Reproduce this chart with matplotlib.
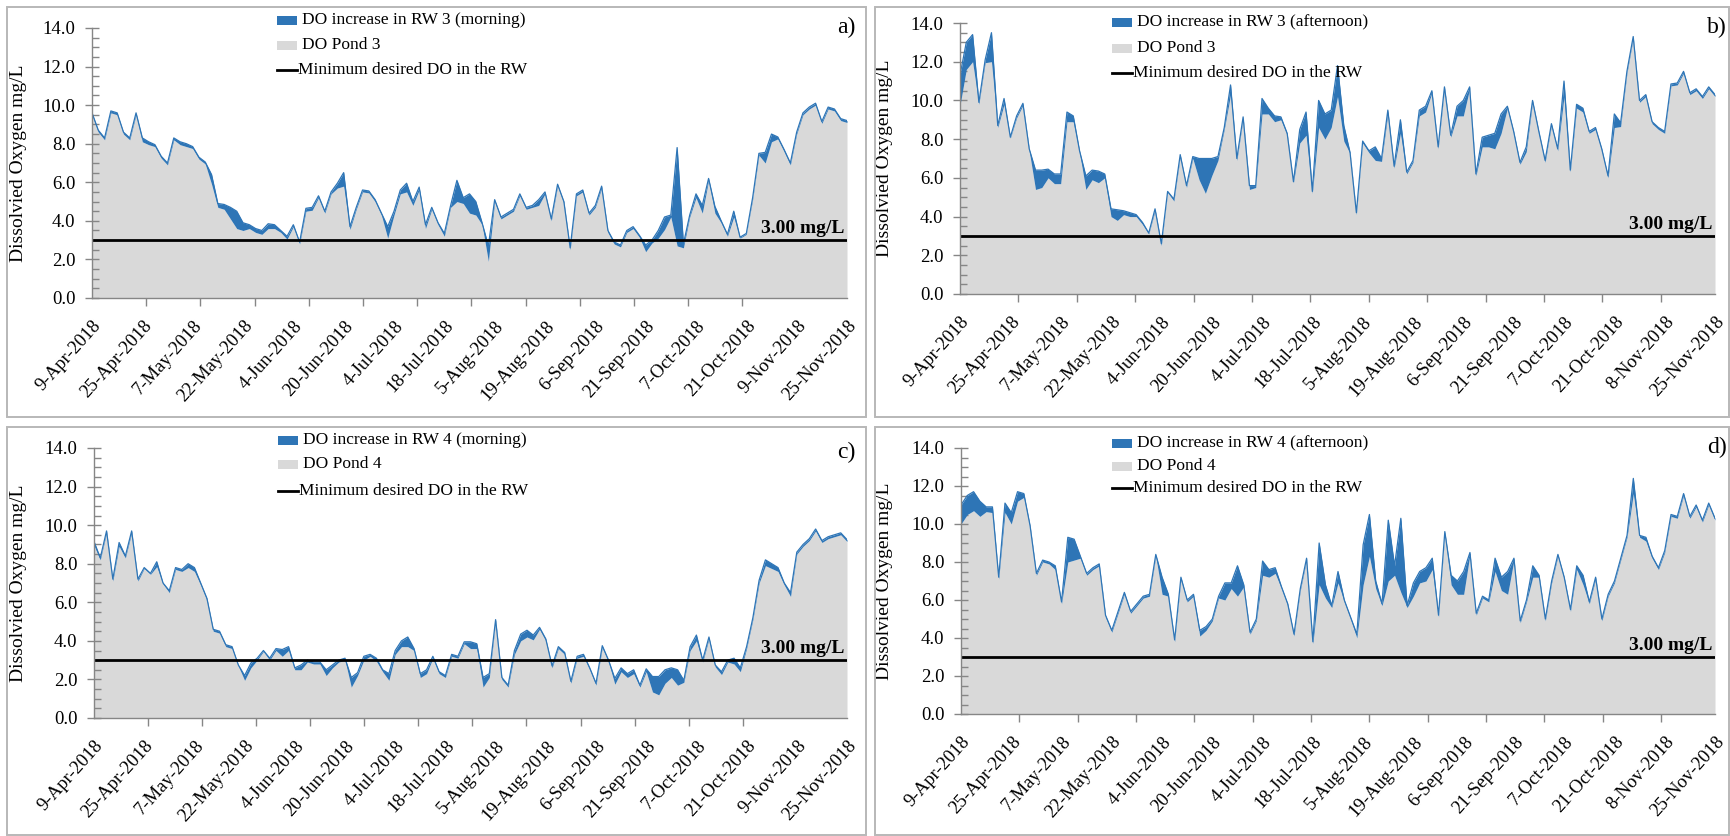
import numpy as np
import matplotlib
matplotlib.use("Agg")
import matplotlib.pyplot as plt
from matplotlib.patches import Rectangle
from matplotlib.lines import Line2D

plt.rcParams['font.family'] = ['Liberation Serif', 'DejaVu Serif']

# ---------------- data (mg/L) ----------------
labels_ac = ["9-Apr-2018", "25-Apr-2018", "7-May-2018", "22-May-2018", "4-Jun-2018",
             "20-Jun-2018", "4-Jul-2018", "18-Jul-2018", "5-Aug-2018", "19-Aug-2018",
             "6-Sep-2018", "21-Sep-2018", "7-Oct-2018", "21-Oct-2018", "9-Nov-2018",
             "25-Nov-2018"]
labels_bd = ["9-Apr-2018", "25-Apr-2018", "7-May-2018", "22-May-2018", "4-Jun-2018",
             "20-Jun-2018", "4-Jul-2018", "18-Jul-2018", "5-Aug-2018", "19-Aug-2018",
             "6-Sep-2018", "21-Sep-2018", "7-Oct-2018", "21-Oct-2018", "8-Nov-2018",
             "25-Nov-2018"]

pond3_am = [9.5, 8.6, 8.2, 9.6, 9.5, 8.5, 8.2, 9.5, 8.1, 7.95, 7.85, 7.25, 6.9, 8.2, 7.95,
            7.85, 7.75, 7.2, 6.95, 5.9, 4.7, 4.6, 4.1, 3.6, 3.5, 3.6, 3.4, 3.3, 3.6, 3.6,
            3.4, 3.05, 3.7, 2.8, 4.5, 4.55, 5.2, 4.4, 5.4, 5.7, 5.8, 3.55, 4.6, 5.5, 5.45,
            5.0, 4.3, 3.1, 4.3, 5.4, 5.5, 4.8, 5.6, 3.6, 4.6, 3.8, 3.2, 4.7, 5.0, 4.9,
            4.4, 4.3, 3.8, 1.9, 5.0, 4.1, 4.3, 4.5, 5.3, 4.6, 4.7, 4.8, 5.4, 4.0, 5.8,
            4.9, 2.5, 5.3, 5.5, 4.3, 4.7, 5.7, 3.4, 2.8, 2.65, 3.4, 3.6, 3.15, 2.4, 2.85,
            3.1, 3.55, 4.2, 2.7, 2.6, 4.2, 5.2, 4.4, 6.1, 4.4, 3.9, 3.2, 4.2, 3.1, 3.3,
            5.1, 7.4, 7.0, 8.1, 8.25, 7.6, 6.9, 8.5, 9.5, 9.8, 10.0, 9.05, 9.8, 9.7, 9.2,
            9.1]
rw3_am_gain = [0.1, 0.1, 0.1, 0.1, 0.1, 0.1, 0.1, 0.1, 0.2, 0.15, 0.1, 0.1, 0.1, 0.1, 0.15,
               0.15, 0.1, 0.1, 0.1, 0.5, 0.2, 0.25, 0.6, 0.9, 0.4, 0.2, 0.2, 0.2, 0.25, 0.2,
               0.1, 0.15, 0.1, 0.1, 0.15, 0.15, 0.1, 0.1, 0.1, 0.25, 0.7, 0.15, 0.1, 0.1, 0.1,
               0.1, 0.1, 0.6, 0.2, 0.2, 0.45, 0.2, 0.15, 0.2, 0.1, 0.1, 0.15, 0.1, 1.1, 0.3,
               1.0, 0.7, 0.1, 0.8, 0.1, 0.1, 0.1, 0.1, 0.1, 0.1, 0.1, 0.3, 0.1, 0.1, 0.1,
               0.1, 0.1, 0.1, 0.1, 0.1, 0.1, 0.1, 0.1, 0.1, 0.1, 0.1, 0.1, 0.1, 0.35, 0.15,
               0.4, 0.65, 0.1, 5.1, 0.2, 0.1, 0.2, 0.4, 0.1, 0.35, 0.1, 0.1, 0.3, 0.05, 0.05,
               0.1, 0.1, 0.55, 0.4, 0.1, 0.1, 0.1, 0.1, 0.1, 0.1, 0.1, 0.1, 0.1, 0.1, 0.1,
               0.1]

pond3_pm = [9.75, 11.6, 12.0, 9.8, 11.95, 12.0, 8.6, 9.8, 8.05, 9.1, 9.75, 7.4, 5.4, 5.5, 6.0,
            5.7, 5.7, 8.9, 8.9, 7.3, 5.4, 5.9, 5.75, 6.0, 4.0, 3.8, 4.1, 4.0, 4.0, 3.6,
            3.1, 4.3, 2.5, 5.25, 4.8, 7.1, 5.5, 7.0, 5.9, 5.2, 6.1, 6.9, 8.5, 10.3, 6.9,
            9.05, 5.4, 5.5, 9.3, 9.3, 8.9, 9.0, 8.2, 5.75, 7.8, 8.2, 5.2, 8.6, 8.0, 8.6,
            10.2, 7.9, 7.25, 4.1, 7.8, 7.3, 6.9, 6.85, 9.3, 6.5, 8.3, 6.2, 6.8, 9.2, 9.4,
            10.4, 7.5, 10.6, 8.1, 9.2, 9.2, 10.6, 6.1, 7.6, 7.6, 7.5, 8.3, 9.6, 8.3, 6.7,
            7.35, 9.9, 8.3, 6.8, 8.7, 7.4, 10.2, 6.3, 9.6, 9.4, 8.3, 8.5, 7.4, 6.0, 8.6,
            8.65, 11.4, 13.2, 9.9, 10.2, 8.8, 8.5, 8.3, 10.75, 10.8, 11.4, 10.3, 10.5, 10.1,
            10.6, 10.2]
rw3_pm_gain = [1.55, 1.4, 1.4, 0.1, 0.15, 1.5, 0.1, 0.3, 0.05, 0.1, 0.1, 0.1, 1.0, 0.9, 0.45,
               0.5, 0.5, 0.5, 0.3, 0.1, 0.7, 0.5, 0.6, 0.2, 0.4, 0.55, 0.2, 0.2, 0.1, 0.1,
               0.05, 0.1, 0.1, 0.05, 0.1, 0.1, 0.1, 0.1, 1.1, 1.8, 0.9, 0.2, 0.1, 0.5, 0.1,
               0.1, 0.2, 0.1, 0.8, 0.3, 0.3, 0.15, 0.1, 0.05, 0.7, 1.2, 0.1, 1.4, 1.3, 0.9,
               1.6, 0.8, 0.05, 0.1, 0.1, 0.1, 0.7, 0.15, 0.2, 0.1, 0.7, 0.1, 0.1, 0.3, 0.3,
               0.1, 0.1, 0.1, 0.1, 0.5, 0.8, 0.1, 0.1, 0.5, 0.6, 0.8, 1.0, 0.1, 0.1, 0.1,
               0.25, 0.1, 0.1, 0.1, 0.1, 0.1, 0.8, 0.1, 0.2, 0.2, 0.1, 0.1, 0.1, 0.1, 0.7,
               0.2, 0.1, 0.1, 0.1, 0.1, 0.1, 0.1, 0.1, 0.1, 0.1, 0.1, 0.1, 0.1, 0.1,
               0.1, 0.1]

pond4_am = [8.95, 8.2, 9.6, 7.1, 8.9, 8.3, 9.6, 7.1, 7.75, 7.45, 7.85, 6.95, 6.5, 7.7, 7.6,
            7.8, 7.6, 6.9, 6.1, 4.5, 4.4, 3.7, 3.6, 2.7, 1.95, 2.6, 3.0, 3.45, 3.0, 3.5,
            3.2, 3.5, 2.5, 2.5, 2.9, 2.8, 2.8, 2.2, 2.6, 2.9, 3.0, 1.6, 2.2, 3.0, 3.2,
            2.95, 2.4, 1.95, 3.3, 3.7, 3.7, 3.5, 2.1, 2.3, 3.1, 2.3, 2.1, 3.2, 3.1, 3.85,
            3.6, 3.6, 1.6, 2.1, 5.0, 2.0, 1.6, 3.3, 4.0, 4.2, 4.05, 4.6, 4.0, 2.6, 3.6,
            3.3, 1.8, 3.1, 3.2, 2.5, 1.7, 3.65, 2.9, 1.75, 2.4, 2.1, 2.3, 1.6, 2.4, 1.35,
            1.2, 1.8, 2.1, 1.7, 1.85, 3.5, 4.0, 2.9, 4.1, 2.65, 2.25, 2.9, 2.8, 2.4, 3.6,
            5.1, 7.0, 7.9, 7.75, 7.6, 6.9, 6.3, 8.5, 8.9, 9.2, 9.7, 9.1, 9.3, 9.4, 9.5,
            9.15]
rw4_am_gain = [0.2, 0.1, 0.1, 0.1, 0.2, 0.1, 0.1, 0.1, 0.05, 0.05, 0.25, 0.05, 0.1, 0.1, 0.1,
               0.2, 0.2, 0.1, 0.1, 0.1, 0.1, 0.1, 0.1, 0.05, 0.25, 0.25, 0.1, 0.05, 0.1, 0.1,
               0.35, 0.2, 0.1, 0.25, 0.1, 0.1, 0.1, 0.3, 0.15, 0.1, 0.1, 0.5, 0.15, 0.2, 0.1,
               0.15, 0.1, 0.35, 0.2, 0.3, 0.5, 0.1, 0.2, 0.2, 0.1, 0.1, 0.1, 0.1, 0.1, 0.1,
               0.35, 0.25, 0.5, 0.2, 0.1, 0.1, 0.1, 0.2, 0.35, 0.35, 0.25, 0.1, 0.1, 0.1, 0.1,
               0.1, 0.1, 0.1, 0.1, 0.1, 0.1, 0.1, 0.1, 0.3, 0.2, 0.2, 0.2, 0.1, 0.15, 0.8,
               0.95, 0.7, 0.5, 0.8, 0.1, 0.2, 0.3, 0.1, 0.1, 0.1, 0.15, 0.1, 0.3, 0.2, 0.1,
               0.1, 0.15, 0.3, 0.25, 0.2, 0.1, 0.2, 0.1, 0.1, 0.1, 0.1, 0.1, 0.1, 0.1, 0.1,
               0.1]

pond4_pm = [10.0, 10.5, 10.7, 10.4, 10.65, 10.6, 7.1, 10.6, 10.0, 11.2, 11.4, 9.8, 7.3, 8.0, 7.9,
            7.6, 5.8, 8.0, 8.1, 8.2, 7.3, 7.6, 7.8, 5.1, 4.3, 5.3, 6.3, 5.3, 5.7, 6.1,
            6.2, 8.3, 6.3, 6.2, 3.8, 7.1, 5.9, 6.2, 4.1, 4.4, 4.9, 6.1, 6.0, 6.6, 6.2,
            6.7, 4.2, 4.9, 7.3, 7.2, 7.4, 6.6, 5.7, 4.1, 6.5, 8.1, 3.7, 6.8, 6.1, 5.6,
            6.9, 5.9, 5.0, 4.0, 6.8, 8.3, 6.6, 5.7, 7.0, 7.3, 6.4, 5.6, 6.2, 6.9, 7.0,
            7.6, 5.1, 9.5, 6.8, 6.3, 6.3, 8.4, 5.2, 6.1, 5.9, 7.5, 6.5, 6.3, 8.1, 4.8,
            5.9, 7.2, 7.2, 4.9, 6.9, 8.3, 7.1, 5.4, 7.6, 6.8, 5.8, 7.1, 4.9, 6.2, 6.9,
            8.1, 9.3, 11.6, 9.3, 9.1, 8.2, 7.6, 8.5, 10.4, 10.3, 11.5, 10.3, 10.9, 10.1,
            11.0, 10.2]
rw4_pm_gain = [1.0, 1.0, 1.0, 0.8, 0.25, 0.3, 0.1, 0.5, 0.6, 0.5, 0.2, 0.1, 0.1, 0.1, 0.1,
               0.2, 0.1, 1.3, 1.1, 0.1, 0.1, 0.1, 0.1, 0.1, 0.1, 0.1, 0.1, 0.1, 0.1, 0.1,
               0.1, 0.1, 0.9, 0.1, 0.1, 0.1, 0.1, 0.1, 0.3, 0.2, 0.1, 0.1, 0.9, 0.3, 1.6,
               0.1, 0.1, 0.1, 0.75, 0.4, 0.3, 0.1, 0.1, 0.1, 0.1, 0.1, 0.1, 2.2, 0.7, 0.1,
               0.6, 0.1, 0.1, 0.2, 2.1, 2.2, 0.4, 0.1, 3.2, 0.5, 3.9, 0.1, 0.7, 0.6, 0.7,
               0.6, 0.1, 0.1, 0.5, 0.7, 1.2, 0.1, 0.1, 0.1, 0.1, 0.7, 0.7, 1.2, 0.1, 0.1,
               0.1, 0.6, 0.1, 0.1, 0.1, 0.1, 0.1, 0.1, 0.2, 0.5, 0.1, 0.1, 0.1, 0.1, 0.1,
               0.1, 0.1, 0.8, 0.1, 0.2, 0.1, 0.1, 0.1, 0.1, 0.1, 0.1, 0.1, 0.1, 0.1,
               0.1, 0.1]

MIN_DO = 3.0

# ---------------- styling ----------------
W, H = 1730, 836
GREY = '#d9d9d9'
BLUE = '#2e75b6'
AXIS = '#868686'
FRAME = '#b8b8b8'

fig = plt.figure(figsize=(W / 100, H / 100), dpi=100)


def fx(px):
    return px / W


def fy(py):
    return 1 - py / H


panels = [
    dict(tag='a)', pond=pond3_am, gain=rw3_am_gain, labels=labels_ac,
         leg='DO increase in RW 3 (morning)', pondname='DO Pond 3', tick=14 / 195,
         box=(92, 28, 847, 298), frame=(7, 7, 866, 417), lx=277, rows=(20, 45, 70),
         tpos=(855, 27), ylab=-0.086),
    dict(tag='b)', pond=pond3_pm, gain=rw3_pm_gain, labels=labels_bd,
         leg='DO increase in RW 3 (afternoon)', pondname='DO Pond 3', tick=58.4 / 755,
         box=(960, 23, 1715, 294), frame=(875, 7, 1729, 417), lx=1112, rows=(22, 48, 73),
         tpos=(1727, 27), ylab=-0.089),
    dict(tag='c)', pond=pond4_am, gain=rw4_am_gain, labels=labels_ac,
         leg='DO increase in RW 4 (morning)', pondname='DO Pond 4', tick=14 / 195,
         box=(94, 448, 847, 718), frame=(7, 427, 866, 835), lx=278, rows=(440, 464, 491),
         tpos=(855, 452), ylab=-0.089),
    dict(tag='d)', pond=pond4_pm, gain=rw4_pm_gain, labels=labels_bd,
         leg='DO increase in RW 4 (afternoon)', pondname='DO Pond 4', tick=58.4 / 755,
         box=(961, 448, 1715, 714), frame=(875, 427, 1729, 835), lx=1112, rows=(443, 466, 488),
         tpos=(1727, 447), ylab=-0.09),
]

for p in panels:
    # panel frame
    l, t, r, b = p['frame']
    fig.add_artist(Rectangle((fx(l), fy(b)), fx(r - l), (b - t) / H, transform=fig.transFigure,
                             fill=False, edgecolor=FRAME, linewidth=1.4))

    l, t, r, b = p['box']
    ax = fig.add_axes([fx(l), fy(b), fx(r - l), (b - t) / H])

    pond = np.array(p['pond'])
    gain = np.array(p['gain'])
    n = len(pond)
    x = np.arange(n)

    ax.fill_between(x, 0, pond, color=GREY, linewidth=0, zorder=1)
    ax.fill_between(x, pond, pond + gain, color=BLUE, linewidth=0, zorder=2)
    ax.plot(x, pond + gain, color=BLUE, linewidth=0.9, zorder=3)
    ax.axhline(MIN_DO, color='black', linewidth=2.0, zorder=4)

    ax.set_xlim(0, n - 1)
    ax.set_ylim(0, 14)

    # y axis
    ax.set_yticks(np.arange(0, 14.01, 2))
    ax.set_yticklabels([f'{v:.1f}' for v in np.arange(0, 14.01, 2)])
    ax.set_yticks(np.arange(0, 14.01, 0.5), minor=True)
    ax.tick_params(axis='y', which='major', direction='inout', length=10, width=1,
                   color=AXIS, labelsize=13.5, pad=7)
    ax.tick_params(axis='y', which='minor', direction='in', length=5, width=1, color=AXIS)
    ax.set_ylabel('Dissolvied Oxygen mg/L', fontsize=14)
    ax.yaxis.set_label_coords(p['ylab'], 0.5)

    # x axis: dates spread evenly, tick marks on their own spacing
    lab_pos = np.linspace(0, n - 1, len(p['labels']))
    ax.set_xticks(lab_pos)
    ax.set_xticklabels(p['labels'], rotation=48, ha='right', va='top',
                       rotation_mode='anchor', fontsize=13.5)
    ax.set_xticks(np.arange(0, n - 1 + 1e-6, p['tick'] * (n - 1)), minor=True)
    ax.tick_params(axis='x', which='major', length=0, pad=14)
    ax.tick_params(axis='x', which='minor', direction='out', length=6, width=1, color=AXIS)

    for side in ('top', 'right'):
        ax.spines[side].set_visible(False)
    for side in ('left', 'bottom'):
        ax.spines[side].set_color(AXIS)
        ax.spines[side].set_linewidth(1.0)
        ax.spines[side].set_zorder(5)

    ax.text(0.997, MIN_DO + 0.36, '3.00 mg/L', transform=ax.get_yaxis_transform(),
            ha='right', va='baseline', fontsize=14, fontweight='bold', zorder=6)

    # legend
    lx = p['lx']
    r1, r2, r3 = p['rows']
    fig.add_artist(Rectangle((fx(lx), fy(r1 + 4.5)), fx(20), 9 / H, transform=fig.transFigure,
                             facecolor=BLUE, edgecolor='none'))
    fig.add_artist(Rectangle((fx(lx), fy(r2 + 4.5)), fx(20), 9 / H, transform=fig.transFigure,
                             facecolor=GREY, edgecolor='none'))
    fig.add_artist(Line2D([fx(lx), fx(lx + 20)], [fy(r3), fy(r3)], transform=fig.transFigure,
                          color='black', linewidth=2.0))
    fig.text(fx(lx + 25), fy(r1), p['leg'], fontsize=12.5, va='center', ha='left')
    fig.text(fx(lx + 25), fy(r2), p['pondname'], fontsize=12.5, va='center', ha='left')
    fig.text(fx(lx + 21), fy(r3), 'Minimum desired DO in the RW', fontsize=12.5,
             va='center', ha='left')

    fig.text(fx(p['tpos'][0]), fy(p['tpos'][1]), p['tag'], fontsize=17, ha='right', va='center')

fig.savefig('out.png', dpi=100)
